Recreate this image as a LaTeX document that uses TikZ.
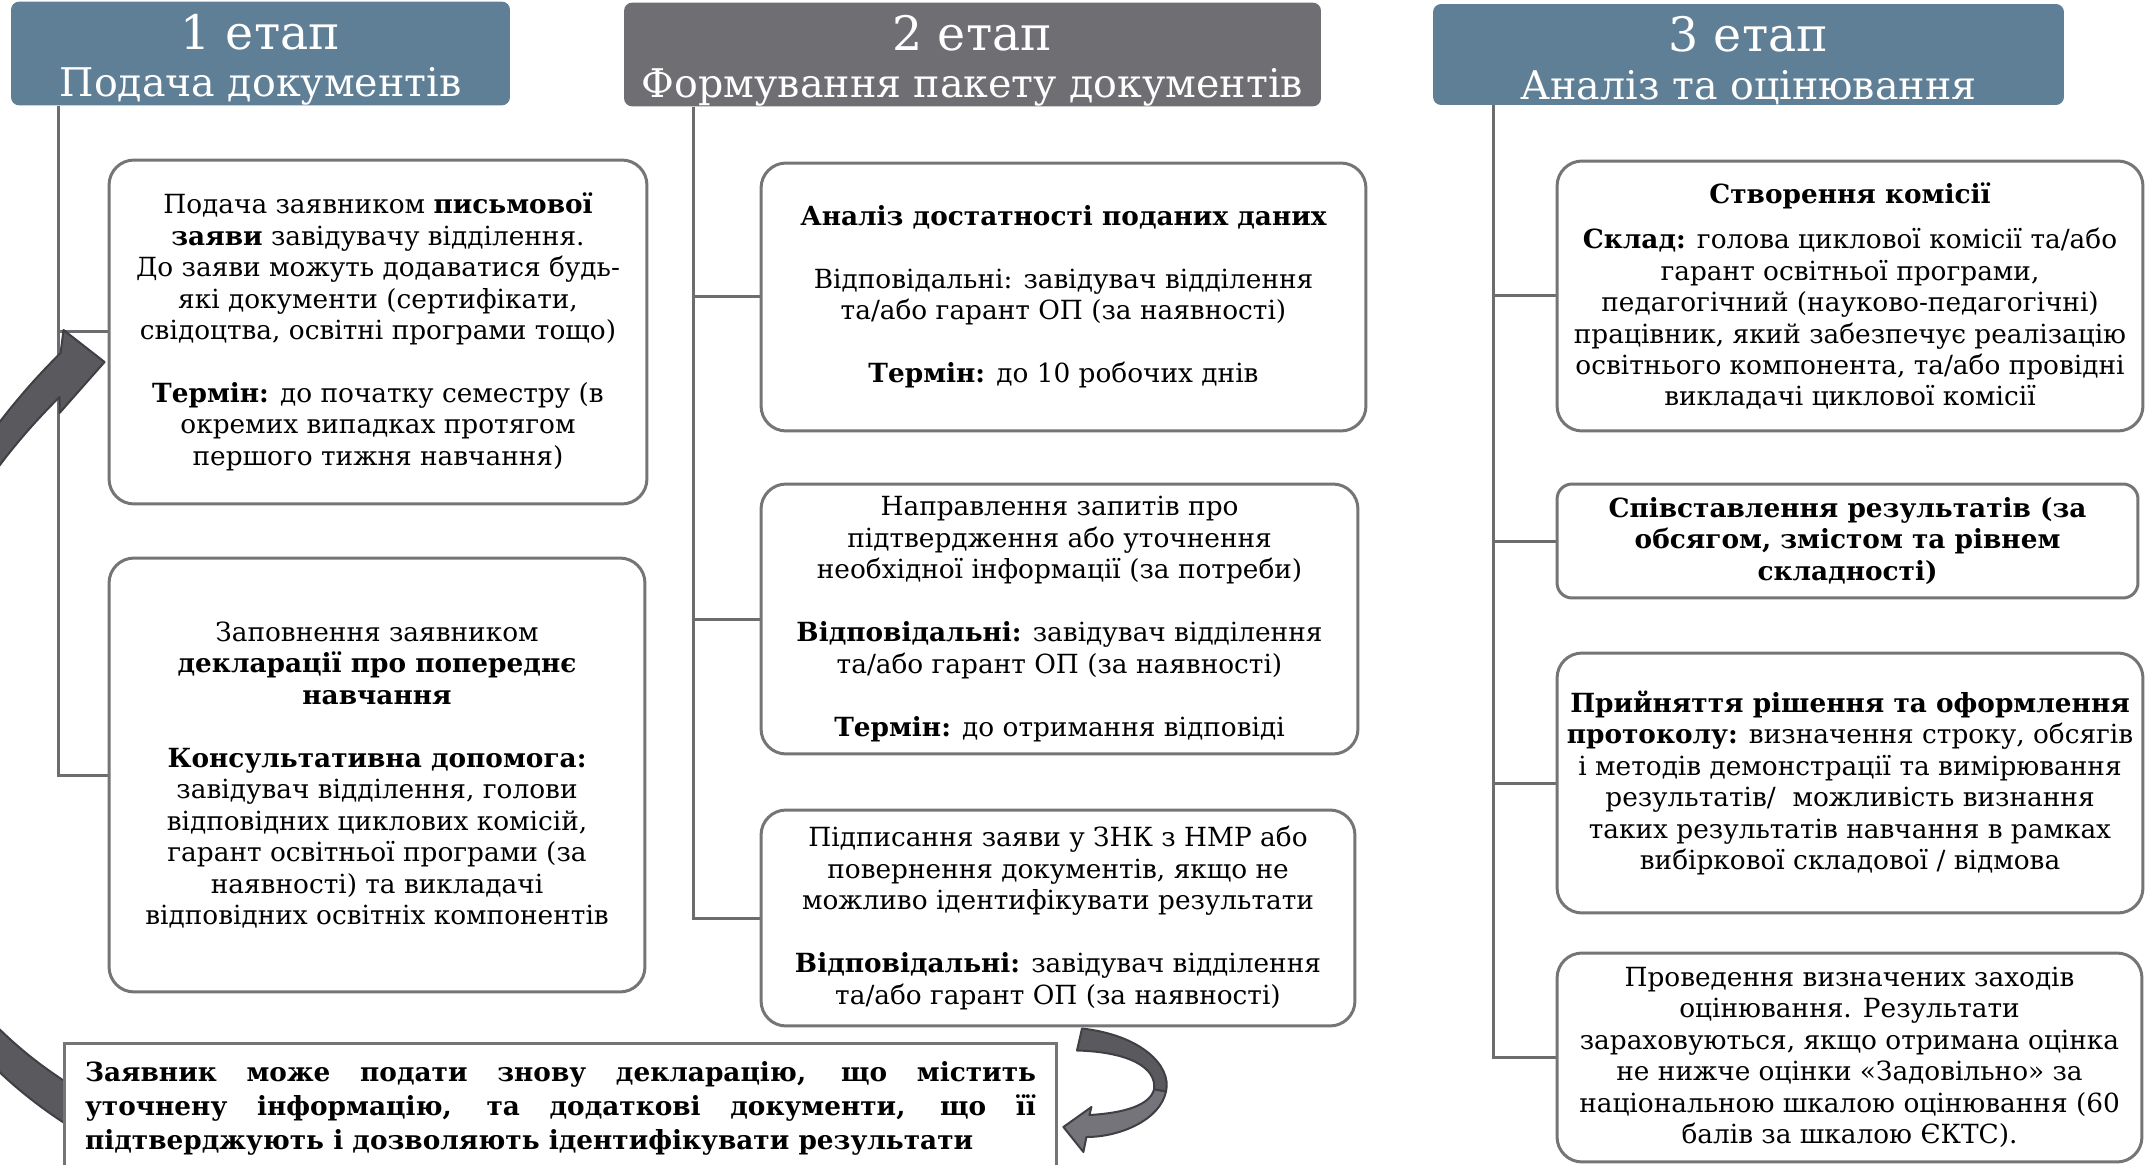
\documentclass[tikz,border=0pt]{standalone}
\usepackage{fontspec}
\setmainfont{DejaVu Serif}
\usetikzlibrary{calc, backgrounds}

\definecolor{stageblue}{HTML}{5F7F96}
\definecolor{stagegray}{HTML}{6F6E73}
\definecolor{linegray}{HTML}{6D6D70}
\definecolor{boxgray}{HTML}{757575}
\definecolor{arrowfill}{HTML}{5A595E}
\definecolor{arrowedge}{HTML}{404044}
\definecolor{arrowlight}{HTML}{75747A}

\newcommand{\gapline}{\\[17.9pt]}
\newcommand{\stagenum}[1]{{\fontsize{27}{27}\selectfont\rule{0pt}{27pt}#1}}

\begin{document}
\begin{tikzpicture}[x=0.02cm, y=-0.02cm,
        stage/.style={fill=#1, rounded corners=0.16cm, text=white, align=center,
            font=\fontsize{22.5}{27}\selectfont, inner sep=0pt},
        stepbox/.style={draw=boxgray, line width=0.06cm, rounded corners=0.5cm, fill=white,
            align=center, inner sep=0pt, font=\fontsize{15}{17.9}\selectfont},
        link/.style={draw=linegray, line width=0.06cm},
        block/.style={fill=#1, draw=arrowedge, line width=0.04cm, line join=round}
    ]
    \path[use as bounding box] (0,0) rectangle (2146,1165);

    % stage headers
    \node[stage=stageblue, minimum width=9.98cm, minimum height=1.98cm] (stage1) at (260.5,53.5) {\stagenum{1 етап}\\Подача документів};
    \node[stage=stagegray, minimum width=13.94cm, minimum height=2.02cm] (stage2) at (972.5,54.5) {\stagenum{2 етап}\\Формування пакету документів};
    \node[stage=stageblue, minimum width=12.62cm, minimum height=2.02cm] (stage3) at (1748.5,54.5) {\stagenum{3 етап}\\Аналіз та оцінювання};

    \coordinate (trunk1) at ($(stage1.south west)+(48,0)$);
    \coordinate (trunk2) at ($(stage2.south west)+(70,0)$);
    \coordinate (trunk3) at ($(stage3.south west)+(61,0)$);

    % stage 1
    \node[stepbox, minimum width=10.76cm, minimum height=6.88cm] (submit) at (378,332) {Подача заявником \textbf{письмової}\\\textbf{заяви} завідувачу відділення.\\До заяви можуть додаватися будь-\\які документи (сертифікати,\\свідоцтва, освітні програми тощо)\gapline\textbf{Термін:} до початку семестру (в\\окремих випадках протягом\\першого тижня навчання)};
    \node[stepbox, minimum width=10.72cm, minimum height=8.68cm] (declare) at (377,775) {Заповнення заявником\\\textbf{декларації про попереднє}\\\textbf{навчання}\gapline\textbf{Консультативна допомога:}\\завідувач відділення, голови\\відповідних циклових комісій,\\гарант освітньої програми (за\\наявності) та викладачі\\відповідних освітніх компонентів};

    % stage 2
    \node[stepbox, minimum width=12.10cm, minimum height=5.36cm] (check) at (1063.5,297) {\textbf{Аналіз достатності поданих даних}\gapline Відповідальні: завідувач відділення\\та/або гарант ОП (за наявності)\gapline\textbf{Термін:} до 10 робочих днів};
    \node[stepbox, minimum width=11.94cm, minimum height=5.40cm] (query) at (1059.5,619) {Направлення запитів про\\підтвердження або уточнення\\необхідної інформації (за потреби)\gapline\textbf{Відповідальні:} завідувач відділення\\та/або гарант ОП (за наявності)\gapline\textbf{Термін:} до отримання відповіді};
    \node[stepbox, minimum width=11.88cm, minimum height=4.32cm] (sign) at (1058,918) {Підписання заяви у ЗНК з НМР або\\повернення документів, якщо не\\можливо ідентифікувати результати\gapline\textbf{Відповідальні:} завідувач відділення\\та/або гарант ОП (за наявності)};

    % stage 3
    \node[stepbox, minimum width=11.72cm, minimum height=5.40cm] (board) at (1850,296) {\textbf{Створення комісії}\\[0.28cm]\textbf{Склад:} голова циклової комісії та/або\\гарант освітньої програми,\\педагогічний (науково-педагогічні)\\працівник, який забезпечує реалізацію\\освітнього компонента, та/або провідні\\викладачі циклової комісії};
    \node[stepbox, rounded corners=0.3cm, minimum width=11.62cm, minimum height=2.28cm, font=\bfseries\fontsize{15}{17.9}\selectfont] (compare) at (1847.5,541) {Співставлення результатів (за\\обсягом, змістом та рівнем\\складності)};
    \node[stepbox, minimum width=11.72cm, minimum height=5.20cm] (decide) at (1850,783) {\textbf{Прийняття рішення та оформлення}\\\textbf{протоколу:} визначення строку, обсягів\\і методів демонстрації та вимірювання\\результатів/~ можливість визнання\\таких результатів навчання в рамках\\вибіркової складової / відмова};
    \node[stepbox, minimum width=11.70cm, minimum height=4.18cm] (assess) at (1849.5,1057.5) {Проведення визначених заходів\\оцінювання. Результати\\зараховуються, якщо отримана оцінка\\не нижче оцінки «Задовільно» за\\національною шкалою оцінювання (60\\балів за шкалою ЄКТС).};

    % repeat note
    \node[draw=boxgray, line width=0.06cm, fill=white, minimum width=19.86cm, minimum height=2.6cm,
        text width=19.02cm, align=justify, inner sep=0pt, font=\bfseries\fontsize{15}{19.3}\selectfont] (note) at (560.5,1108)
        {Заявник може подати знову декларацію, що містить\linebreak уточнену інформацію, та додаткові документи, що її\linebreak підтверджують і дозволяють ідентифікувати результати};

    \begin{scope}[on background layer]
        \draw[link] (trunk1) |- (submit.west);
        \draw[link] (trunk1) |- (declare.west);
        \draw[link] (trunk2) |- (check.west);
        \draw[link] (trunk2) |- (query.west);
        \draw[link] (trunk2) |- (sign.west);
        \draw[link] (trunk3) |- (board.west);
        \draw[link] (trunk3) |- (compare.west);
        \draw[link] (trunk3) |- (decide.west);
        \draw[link] (trunk3) |- (assess.west);

        % curved arrow back to the first step
        \draw[block=arrowfill] ($(note.west)+(8,19)$) .. controls (-208,952) and (-173,584) .. ($(submit.west)+(-47,21)$)
            -- ($(submit.west)+(-44,-2)$) -- ($(submit.west)+(-3,30)$) -- ($(submit.west)+(-48,81)$)
            -- ($(submit.west)+(-48,65)$) .. controls (-153,607) and (-182,926) .. ($(note.west)+(8,-23)$) -- cycle;

        % curved arrow from the signing step to the note
        \draw[block=arrowfill] ($(sign.south)+(24,1)$) .. controls (1140,1035) and (1172,1065) .. ($(sign.south)+(108,64)$)
            -- ($(sign.south)+(96,62)$) .. controls (1157,1068) and (1130,1052) .. ($(sign.south)+(19,23)$) -- cycle;
        \draw[block=arrowlight] ($(sign.south)+(108,64)$) .. controls (1160,1120) and (1120,1137) .. ($(note.east)+(28,29)$)
            -- ($(note.east)+(25,44)$) -- ($(note.east)+(5,19)$) -- ($(note.east)+(33,-1)$)
            -- ($(note.east)+(31,7)$) .. controls (1125,1113) and (1150,1105) .. ($(sign.south)+(96,62)$) -- cycle;
    \end{scope}
\end{tikzpicture}
\end{document}
